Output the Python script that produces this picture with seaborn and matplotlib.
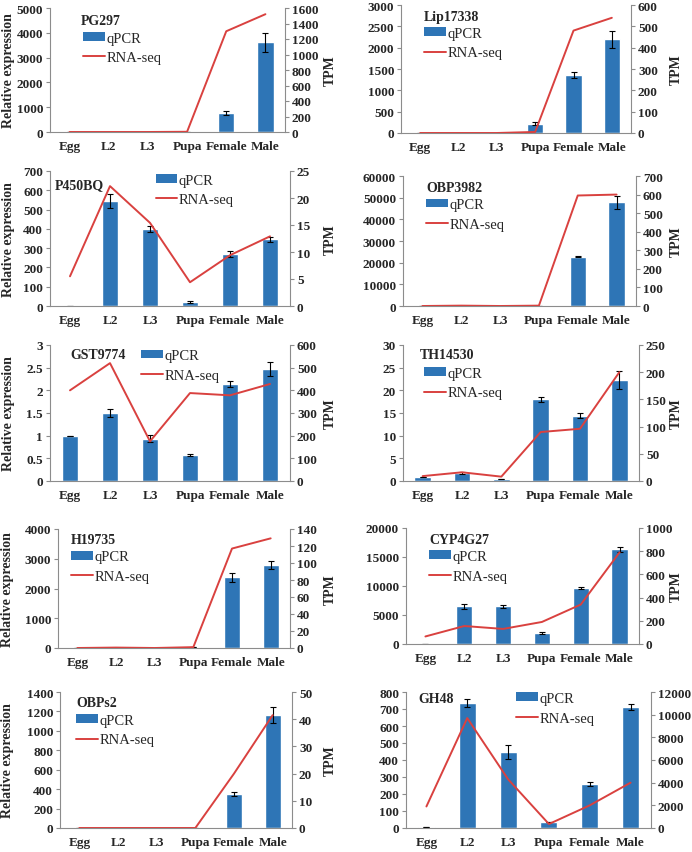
import numpy as np
import pandas as pd
import matplotlib
matplotlib.use('Agg')
import matplotlib.pyplot as plt
import seaborn as sns
from matplotlib.patches import Patch
from matplotlib.lines import Line2D

stages = ['Egg', 'L2', 'L3', 'Pupa', 'Female', 'Male']

# qPCR relative expression, error bars, RNA-seq TPM per gene
pg297_q = [5, 0, 0, 5, 750, 3620]
pg297_e = [0, 0, 0, 0, 80, 380]
pg297_t = [0, 0, 0, 3, 1300, 1520]

lip_q = [5, 0, 0, 220, 1360, 2200]
lip_e = [0, 0, 0, 30, 80, 200]
lip_t = [0, 0, 0, 5, 480, 540]

p450_q = [2, 545, 400, 20, 268, 345]
p450_e = [0, 35, 15, 5, 15, 15]
p450_t = [5.5, 22.2, 15.4, 4.4, 9.4, 12.9]

obp3982_q = [100, 0, 0, 50, 22700, 48000]
obp3982_e = [0, 0, 0, 0, 300, 3000]
obp3982_t = [0, 2, 0, 2, 595, 600]

gst_q = [1.0, 1.5, 0.93, 0.57, 2.14, 2.47]
gst_e = [0, 0.08, 0.08, 0.02, 0.06, 0.15]
gst_t = [400, 520, 175, 388, 378, 428]

th_q = [0.9, 1.8, 0.5, 18.0, 14.4, 22.2]
th_e = [0, 0.2, 0, 0.5, 0.5, 2.0]
th_t = [9, 16, 8, 90, 96, 200]

h19_q = [0, 0, 0, 20, 2380, 2800]
h19_e = [0, 0, 0, 0, 150, 130]
h19_t = [0, 0.5, 0, 1, 117, 129]

cyp_q = [50, 6500, 6500, 1900, 9600, 16300]
cyp_e = [0, 400, 250, 100, 150, 400]
cyp_t = [65, 155, 130, 190, 340, 790]

obps2_q = [0, 0, 0, 0, 350, 1165]
obps2_e = [0, 0, 0, 0, 25, 85]
obps2_t = [0, 0, 0, 0, 20, 41.5]

gh48_q = [3, 735, 448, 33, 260, 712]
gh48_e = [0, 25, 40, 0, 10, 20]
gh48_t = [1900, 9700, 4300, 350, 2000, 4000]

BAR = '#2e75b6'
LINE = '#d9413f'
GRID = '#8c8c8c'

sns.set_style('white')
plt.rcParams['font.family'] = ['Liberation Serif', 'DejaVu Serif']

W, H = 692, 853
fig = plt.figure(figsize=(W / 100, H / 100), dpi=100)

# name, q, err, tpm, (left, right, top, bottom px), left lim/step, right lim/step,
# gene label pos, legend pos (axes coords), left ylabel, right ylabel
panels = [
    ('PG297', pg297_q, pg297_e, pg297_t, (50, 285, 9, 133), (5000, 1000), (1600, 200),
     (0.13, 0.90), (0.14, 0.81), True, True),
    ('Lip17338', lip_q, lip_e, lip_t, (401, 631, 6, 134), (3000, 500), (600, 100),
     (0.10, 0.91), (0.10, 0.83), False, True),
    ('P450BQ', p450_q, p450_e, p450_t, (50, 290, 172, 307), (700, 100), (25, 5),
     (0.02, 0.90), (0.44, 0.98), True, True),
    ('OBP3982', obp3982_q, obp3982_e, obp3982_t, (403, 636, 177, 307), (60000, 10000), (700, 100),
     (0.10, 0.915), (0.10, 0.83), False, True),
    ('GST9774', gst_q, gst_e, gst_t, (50, 290, 346, 482), (3, 0.5), (600, 100),
     (0.083, 0.93), (0.38, 0.97), True, True),
    ('TH14530', th_q, th_e, th_t, (403, 639, 346, 482), (30, 5), (250, 50),
     (0.07, 0.93), (0.09, 0.84), False, True),
    ('H19735', h19_q, h19_e, h19_t, (58, 290, 530, 649), (4000, 1000), (140, 20),
     (0.056, 0.91), (0.056, 0.82), True, True),
    ('CYP4G27', cyp_q, cyp_e, cyp_t, (406, 639, 529, 645), (20000, 5000), (1000, 200),
     (0.10, 0.90), (0.10, 0.81), False, True),
    ('OBPs2', obps2_q, obps2_e, obps2_t, (60, 292, 693, 829), (1400, 200), (50, 10),
     (0.07, 0.92), (0.07, 0.84), True, True),
    ('GH48', gh48_q, gh48_e, gh48_t, (406, 651, 693, 829), (800, 100), (12000, 2000),
     (0.05, 0.955), (0.45, 1.0), False, False),
]

FS = 10
TFS = 9.5


def fmt_tick(v, step):
    if step < 1:
        return ('%g' % v)
    return '%d' % v


for (name, q, err, tpm, box, lleft, lright, gpos, lpos, ylab, rlab) in panels:
    l, r, t, b = box
    ax = fig.add_axes([l / W, 1 - b / H, (r - l) / W, (b - t) / H])
    df = pd.DataFrame({'stage': stages, 'qpcr': q})
    sns.barplot(data=df, x='stage', y='qpcr', color=BAR, width=0.42,
                saturation=1, errorbar=None, ax=ax)
    ax.errorbar(np.arange(6), q, yerr=err, fmt='none', ecolor='black',
                elinewidth=0.8, capsize=2, capthick=0.8)
    ax.set_xlim(-0.5, 5.5)
    ax.set_ylim(0, lleft[0])
    yt = np.arange(0, lleft[0] + lleft[1] / 2, lleft[1])
    ax.set_yticks(yt)
    ax.set_yticklabels([fmt_tick(v, lleft[1]) for v in yt])
    ax.set_xlabel('')
    ax.set_ylabel('Relative expression' if ylab else '', fontweight='bold', fontsize=FS)
    ax.yaxis.label.set_va('center')
    ax.yaxis.set_label_coords(-(l - 8) / (r - l), 0.5)

    ax2 = ax.twinx()
    sns.lineplot(x=np.arange(6), y=tpm, color=LINE, lw=1.4, ax=ax2)
    ax2.set_ylim(0, lright[0])
    rt = np.arange(0, lright[0] + lright[1] / 2, lright[1])
    ax2.set_yticks(rt)
    ax2.set_yticklabels(['%d' % v for v in rt])
    ax2.set_ylabel('TPM' if rlab else '', fontweight='bold', fontsize=FS)
    ax2.yaxis.label.set_va('center')
    lab_x = 330 if l < 200 else 676
    ax2.yaxis.set_label_coords((lab_x - l) / (r - l), 0.5)
    ax2.set_xlim(-0.5, 5.5)

    for a in (ax, ax2):
        for s in a.spines.values():
            s.set_visible(False)
    ax.spines['left'].set_visible(True)
    ax.spines['bottom'].set_visible(True)
    ax2.spines['right'].set_visible(True)
    for s in (ax.spines['left'], ax.spines['bottom'], ax2.spines['right']):
        s.set_color(GRID)
        s.set_linewidth(0.8)

    ax.set_xticks(np.arange(6))
    ax.set_xticklabels(stages)
    ax.set_xticks(np.arange(-0.5, 6, 1), minor=True)
    ax.tick_params(axis='x', which='major', length=0, pad=6)
    ax.tick_params(axis='x', which='minor', length=4, color=GRID, direction='out')
    ax.tick_params(axis='y', length=3, color=GRID, direction='out', pad=2)
    ax2.tick_params(axis='y', length=3, color=GRID, direction='out', pad=2)
    for lab in ax.get_xticklabels() + ax.get_yticklabels() + ax2.get_yticklabels():
        lab.set_fontweight('bold')
        lab.set_fontsize(TFS)

    ax.text(gpos[0], gpos[1], name, transform=ax.transAxes, fontsize=FS,
            fontweight='bold', va='center', ha='left', zorder=5)
    handles = [Patch(facecolor=BAR, edgecolor='none'),
               Line2D([0], [0], color=LINE, lw=1.4)]
    leg = ax2.legend(handles, ['qPCR', 'RNA-seq'], loc='upper left',
                     bbox_to_anchor=lpos, frameon=False, fontsize=10.5,
                     handlelength=1.5, handleheight=0.55, handletextpad=0.1,
                     labelspacing=0.45, borderpad=0, borderaxespad=0)

fig.savefig('out.png', dpi=100, facecolor='white')
